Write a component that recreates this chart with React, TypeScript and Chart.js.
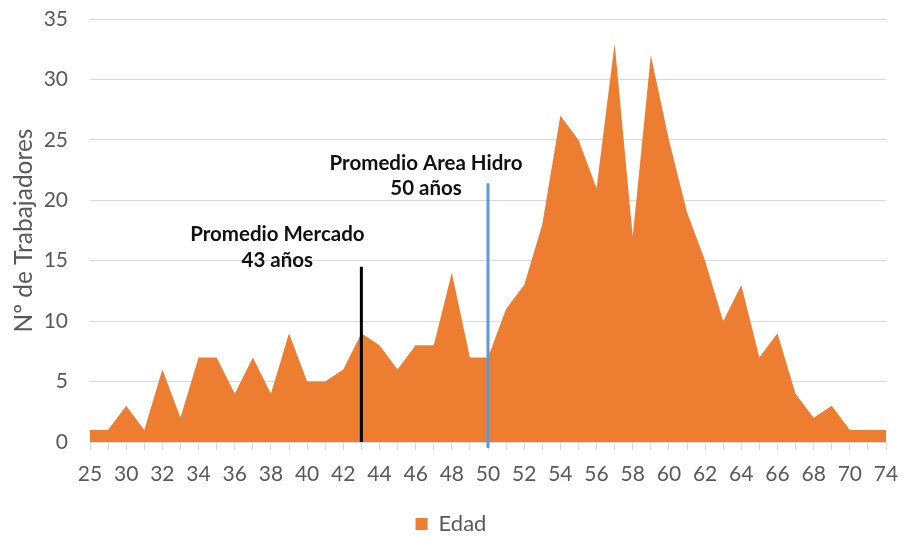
import React, { useEffect, useRef } from 'react';
import { Chart, registerables } from 'chart.js';

Chart.register(...registerables);

// Edad (categorías del eje X)
const ages = [
  '25', '29', '30', '31', '32', '33', '34', '35', '36', '37', '38', '39', '40', '41', '42',
  '43', '44', '45', '46', '47', '48', '49', '50', '51', '52', '53', '54', '55', '56', '57',
  '58', '59', '60', '61', '62', '63', '64', '65', '66', '67', '68', '69', '70', '72', '74',
];

// Nº de trabajadores por edad
const workers = [
  1, 1, 3, 1, 6, 2, 7, 7, 4, 7, 4, 9, 5, 5, 6,
  9, 8, 6, 8, 8, 14, 7, 7, 11, 13, 18, 27, 25, 21, 33,
  17, 32, 25, 19, 15, 10, 13, 7, 9, 4, 2, 3, 1, 1, 1,
];

const yMin = 0;
const yMax = 35;
const yStep = 5;

// Líneas de referencia (promedios)
const refAges = ['43', '50'];
const refTops = [14.5, 21.4];
const refBottoms = [0, -0.5];
const refColors = ['#000000', '#5B9BD5'];
const refTitles = ['Promedio Mercado', 'Promedio Area Hidro'];
const refSubtitles = ['43 años', '50 años'];
const refTitleLevels = [17.2, 23.05];
const refSubtitleLevels = [15.0, 21.0];

const TEXT = '#595959';
const GRID = '#d9d9d9';
const FONT = 'Lato';

const refLinesPlugin = {
  id: 'refLines',
  afterDatasetsDraw(chart: any) {
    const { ctx } = chart;
    const x = chart.scales.x;
    const y = chart.scales.y;
    const labelShift = [-84, -62];
    refAges.forEach((age, i) => {
      const px = x.getPixelForValue(ages.indexOf(age));
      ctx.save();
      ctx.strokeStyle = refColors[i];
      ctx.lineWidth = 3;
      ctx.beginPath();
      ctx.moveTo(px, y.getPixelForValue(refBottoms[i]));
      ctx.lineTo(px, y.getPixelForValue(refTops[i]));
      ctx.stroke();
      ctx.font = `bold 20.5px ${FONT}`;
      ctx.fillStyle = '#111111';
      ctx.textAlign = 'center';
      ctx.textBaseline = 'middle';
      const tx = px + labelShift[i];
      ctx.fillText(refTitles[i], tx, y.getPixelForValue(refTitleLevels[i]));
      ctx.fillText(refSubtitles[i], tx, y.getPixelForValue(refSubtitleLevels[i]));
      ctx.restore();
    });
  },
};

export default function App() {
  const canvasRef = useRef<HTMLCanvasElement | null>(null);

  useEffect(() => {
    if (!canvasRef.current) return;
    const chart = new Chart(canvasRef.current, {
      type: 'line',
      data: {
        labels: ages,
        datasets: [
          {
            label: 'Edad',
            data: workers,
            fill: 'origin',
            backgroundColor: '#ED7D31',
            borderColor: '#ED7D31',
            borderWidth: 0,
            pointRadius: 0,
            tension: 0,
          },
        ],
      },
      options: {
        responsive: false,
        animation: false,
        layout: { padding: { top: 0, right: 0, left: 0, bottom: -8 } },
        plugins: {
          tooltip: { enabled: false },
          legend: {
            position: 'bottom',
            labels: {
              boxWidth: 12,
              boxHeight: 12,
              color: TEXT,
              font: { family: FONT, size: 22 },
              padding: 0,
            },
          },
        },
        scales: {
          x: {
            grid: { drawOnChartArea: false, drawTicks: true, tickLength: 8, color: GRID },
            border: { color: GRID, width: 1 },
            ticks: {
              autoSkip: false,
              maxRotation: 0,
              color: TEXT,
              font: { family: FONT, size: 21 },
              padding: 12,
              callback: (_v: any, i: number) => (i % 2 === 0 ? ages[i] : ''),
            },
            afterFit: (s: any) => {
              s.height = 71;
              s.paddingLeft = 0;
              s.paddingRight = 16;
            },
          },
          y: {
            min: yMin,
            max: yMax,
            ticks: {
              stepSize: yStep,
              color: TEXT,
              font: { family: FONT, size: 21 },
              padding: 22,
            },
            grid: { color: GRID, drawTicks: false },
            border: { display: false },
            title: {
              display: true,
              text: 'Nº de Trabajadores',
              color: TEXT,
              font: { family: FONT, size: 24.5 },
              padding: { top: 9, bottom: 0 },
            },
            afterFit: (s: any) => {
              s.width = 90;
              s.paddingTop = 19;
              s.paddingBottom = 0;
            },
          },
        },
      },
      plugins: [refLinesPlugin],
    });
    return () => chart.destroy();
  }, []);

  return (
    <div style={{ position: 'fixed', left: 0, top: 0, width: 902, height: 537, background: '#ffffff' }}>
      <canvas ref={canvasRef} width={902} height={537} style={{ display: 'block' }} />
    </div>
  );
}
